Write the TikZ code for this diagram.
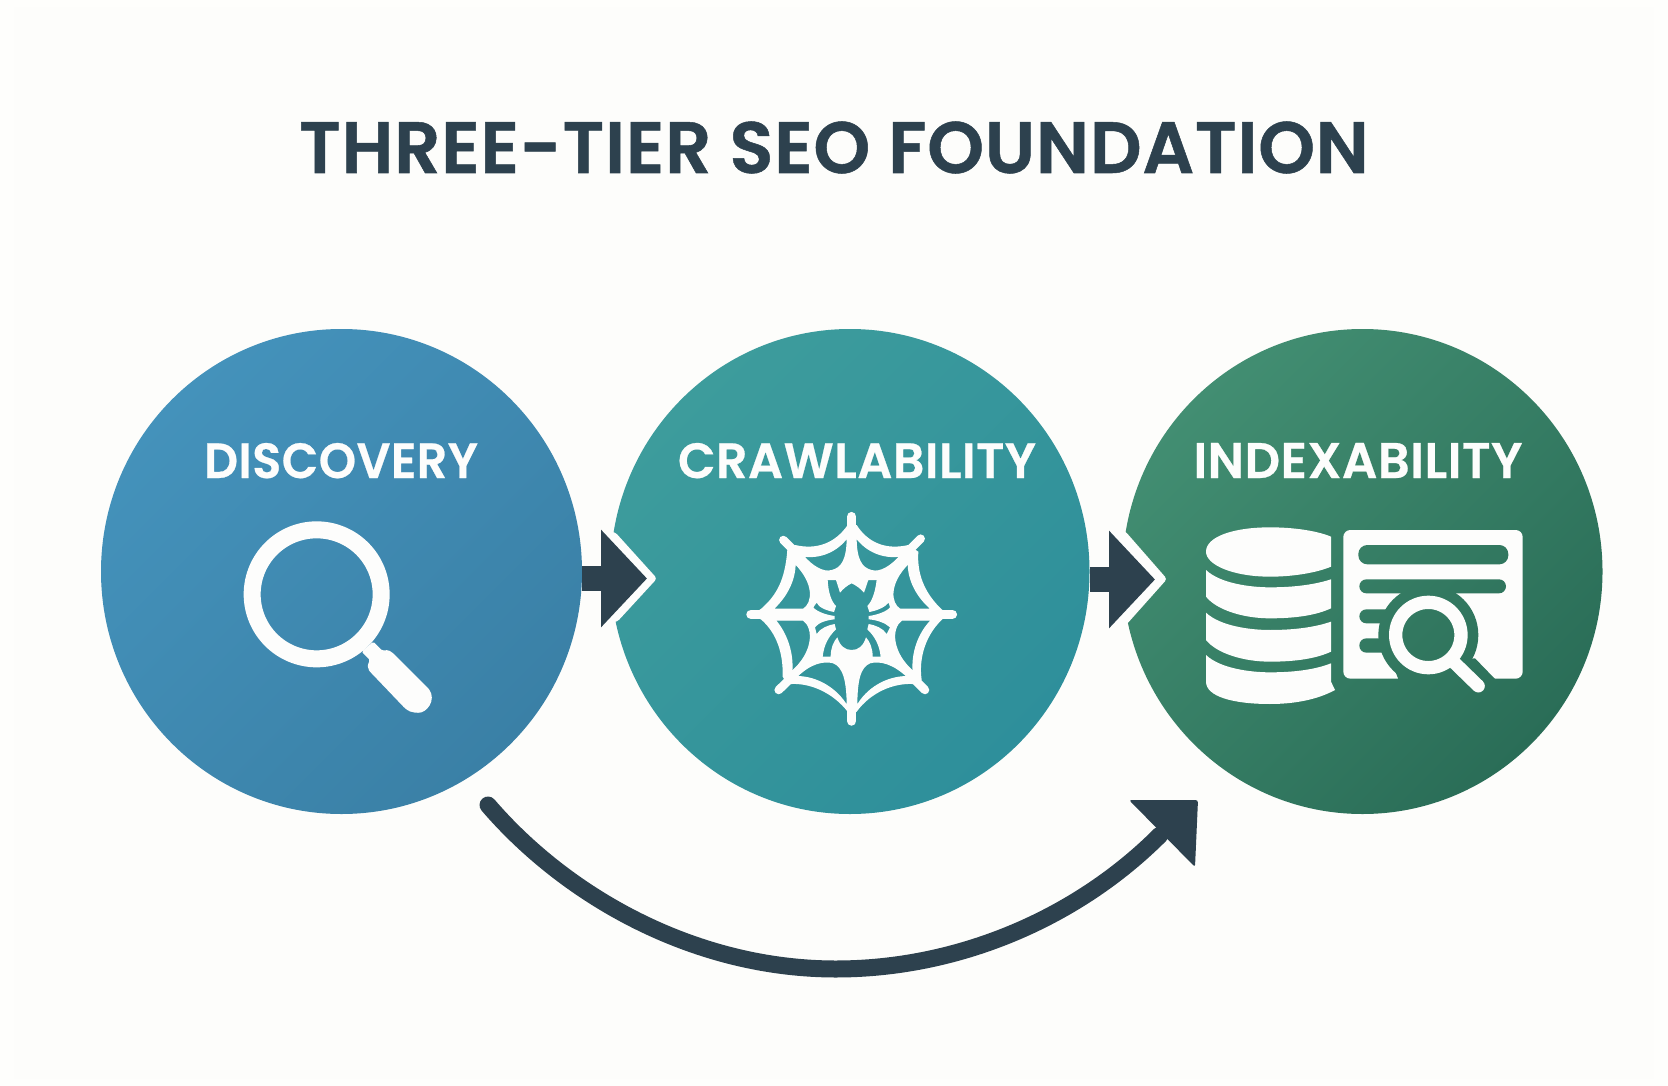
\documentclass[tikz,border=0pt]{standalone}
\usepackage{fontspec}
\usetikzlibrary{arrows.meta,calc,shapes.geometric}
\newfontfamily\ttlfont[LetterSpace=1,FakeBold=0.7]{Poppins SemiBold}
\newfontfamily\lblfont[LetterSpace=1,FakeBold=0.5]{Poppins SemiBold}
\definecolor{ink}{HTML}{2D414E}
\definecolor{paper}{HTML}{FDFDFB}
\definecolor{paperout}{HTML}{FEFEFC}
\definecolor{iconw}{HTML}{FDFDFC}
\definecolor{aA}{HTML}{4492BB}\definecolor{aB}{HTML}{3A80A6}
\definecolor{bA}{HTML}{3D9C9C}\definecolor{bB}{HTML}{2E8F9B}
\definecolor{cA}{HTML}{428E72}\definecolor{cB}{HTML}{2A6D57}
\tikzset{
  x=1pt,y=-1pt,
  discbase/.style={ellipse,inner sep=0pt,minimum height=485pt,text=iconw},
  disca/.style={discbase,minimum width=481pt,shade,top color=aA,bottom color=aB,shading angle=45},
  discb/.style={discbase,minimum width=479pt,shade,top color=bA,bottom color=bB,shading angle=45},
  discc/.style={discbase,minimum width=480pt,shade,top color=cA,bottom color=cB,shading angle=45},
  titletext/.style={inner sep=0pt,text=ink,anchor=base},
  labeltext/.style={inner sep=0pt,text=iconw,anchor=base},
  shaft/.style={draw=ink,line width=25.5pt,-{Triangle[length=46pt,width=95pt,fill=ink]}},
  halo/.style={fill=iconw,rounded corners=3pt},
  icon/.style={fill=iconw,draw=none},
  iconline/.style={draw=iconw,line cap=round},
  zoomfa/.style={shift={(700,480)},scale=1/3},
  zoomfb/.style={shift={(1100,500)},scale=1/3},
  zoomfc/.style={shift={(220,500)},scale=1/3},
}
\newcommand\holeThree[1]{\begin{scope}\clip #1;\begin{scope}[reset cm]
  \shade[top color=cA,bottom color=cB,shading angle=45] (1362.5,571.5) ellipse [x radius=240,y radius=242.5];\end{scope}\end{scope}}
\newcommand\webholes{
  (442,172) .. controls (410,215) and (360,235) .. (310,228) .. controls (335,258) and (370,280) .. (395,272) .. controls (425,265) and (442,240) .. (442,172) -- cycle
  (468,172) .. controls (500,215) and (550,235) .. (600,228) .. controls (575,258) and (540,280) .. (515,272) .. controls (485,265) and (468,240) .. (468,172) -- cycle
  (285,250) .. controls (285,300) and (260,350) .. (218,388) -- (310,388) .. controls (340,370) and (345,310) .. (285,250) -- cycle
  (625,250) .. controls (625,300) and (650,350) .. (695,388) -- (600,388) .. controls (570,370) and (565,310) .. (625,250) -- cycle
  (225,420) -- (310,420) .. controls (345,445) and (340,520) .. (275,575) .. controls (280,520) and (260,460) .. (225,420) -- cycle
  (695,420) -- (605,420) .. controls (570,445) and (575,520) .. (640,575) .. controls (635,520) and (655,460) .. (695,420) -- cycle
  (290,590) .. controls (330,550) and (370,540) .. (400,548) .. controls (430,560) and (442,600) .. (442,680) .. controls (410,625) and (350,590) .. (290,590) -- cycle
  (622,590) .. controls (580,550) and (540,540) .. (510,548) .. controls (480,560) and (470,600) .. (470,680) .. controls (500,625) and (560,590) .. (622,590) -- cycle
}
\begin{document}
\begin{tikzpicture}
\useasboundingbox (0,0) rectangle (1668,1086);
\fill[paperout] (0,0) rectangle (1668,1086);
\fill[paper] (14,7) rectangle (1654,1079);

\node[titletext] (title) at (834,173) {\resizebox{1069pt}{51.5pt}{\ttlfont THREE-TIER SEO FOUNDATION}};

\node[disca] (c1) at (341.5,571.5) {};
\node[discb] (c2) at (850,571.5) {};
\node[discc] (c3) at (1362.5,571.5) {};

\node[labeltext] (l1) at (341,478) {\resizebox{274pt}{35pt}{\lblfont DISCOVERY}};
\node[labeltext] (l2) at (857,478) {\resizebox{358pt}{35pt}{\lblfont CRAWLABILITY}};
\node[labeltext] (l3) at (1358,478) {\resizebox{329pt}{35pt}{\lblfont INDEXABILITY}};

% straight arrows
\fill[halo] (600,532) -- (615,532) -- (657,578.5) -- (617,622) -- (600,622) -- cycle;
\fill[halo] (1100,531) -- (1125,531) -- (1167,579) -- (1126,625) -- (1100,625) -- cycle;
\coordinate (a1s) at (c1.east |- 0,578.5);
\coordinate (a1t) at (647,578.5);
\coordinate (a2s) at (c2.east |- 0,579.5);
\coordinate (a2t) at (1155,579.5);
\draw[shaft] (a1s) -- (a1t);
\draw[shaft] (a2s) -- (a2t);

% curved arrow
\coordinate (cs) at (488,805);
\coordinate (cm) at (836,969);
\coordinate (ce) at (1160,835);
\draw[ink,line width=17pt,line cap=round] (cs) .. controls (567,897) and (695,969) .. (cm) .. controls (956,969) and (1075,920) .. (ce);
\fill[ink,rounded corners=2.5pt] (1129,800) -- (1198,800) -- (1195,867) -- cycle;

% magnifier
\begin{scope}[zoomfc]
\draw[iconw,line width=17pt] (290,283) circle (193.5);
\fill[icon,rounded corners=1.5pt] (425,455) -- (460,425) -- (487,452) -- (505,450) -- (520,460)
  -- (625,565) .. controls (650,600) and (620,640) .. (590,638)
  .. controls (575,638) and (565,632) .. (555,625) -- (450,515) .. controls (442,505) and (442,495) .. (450,480) -- cycle;
\end{scope}

% web
\begin{scope}[zoomfa]
\draw[iconline,line width=9.5pt] (455,110) -- (455,160);
\draw[iconline,line width=9.5pt] (455,723) -- (455,670);
\draw[iconline,line width=9.5pt] (153,403) -- (200,403);
\draw[iconline,line width=9.5pt] (757,403) -- (710,403);
\draw[iconline,line width=8.5pt] (250,180) -- (285,215);
\draw[iconline,line width=8.5pt] (662,176) -- (630,208);
\draw[iconline,line width=8.5pt] (236,630) -- (270,597);
\draw[iconline,line width=8.5pt] (675,630) -- (640,595);
\fill[icon,even odd rule]
  (443,135) .. controls (405,190) and (350,210) .. (285,195) -- (262,210)
  .. controls (255,300) and (230,345) .. (185,385) -- (160,403) -- (185,420)
  .. controls (230,460) and (250,520) .. (248,590) -- (262,613)
  .. controls (330,605) and (400,640) .. (443,695) -- (455,705) -- (470,695)
  .. controls (510,640) and (580,605) .. (650,613) -- (665,600)
  .. controls (655,530) and (680,460) .. (730,415) -- (745,403) -- (725,388)
  .. controls (680,345) and (650,290) .. (655,215) -- (625,195)
  .. controls (560,210) and (505,190) .. (470,135) -- cycle
  \webholes
  % spider
  (455,310) .. controls (442,316) and (430,326) .. (420,338) -- (408,300) -- (383,300) .. controls (385,340) and (395,365) .. (408,378)
  -- (402,396) .. controls (380,392) and (355,382) .. (350,368) -- (340,382) .. controls (350,395) and (380,405) .. (404,408)
  -- (404,418) .. controls (380,420) and (355,428) .. (345,442) -- (350,462) .. controls (360,445) and (385,435) .. (404,432)
  -- (408,448) .. controls (385,470) and (372,495) .. (368,530) -- (392,530) .. controls (392,505) and (400,485) .. (412,472)
  .. controls (420,498) and (435,510) .. (455,510) .. controls (475,510) and (490,498) .. (498,472)
  .. controls (510,485) and (518,505) .. (518,530) -- (542,530) .. controls (538,495) and (525,470) .. (502,448)
  -- (506,432) .. controls (525,435) and (550,445) .. (560,462) -- (570,442) .. controls (555,428) and (530,420) .. (506,418)
  -- (506,408) .. controls (530,405) and (560,395) .. (570,382) -- (566,368) .. controls (555,382) and (530,392) .. (508,396)
  -- (502,378) .. controls (515,365) and (525,340) .. (530,300) -- (505,300) -- (492,338) .. controls (482,326) and (468,316) .. (455,310) -- cycle;
\draw[iconw,line width=1.3pt] \webholes;
\end{scope}

% database and document
\begin{scope}[zoomfb]
\fill[icon] (693,110) .. controls (650,92) and (580,82) .. (510,82) .. controls (400,82) and (318,110) .. (318,155)
  .. controls (318,195) and (400,230) .. (510,230) .. controls (580,230) and (650,218) .. (693,200) -- cycle;
\fill[icon] (318,210) .. controls (360,250) and (450,262) .. (510,262) .. controls (590,262) and (650,252) .. (693,238)
  -- (693,325) .. controls (650,345) and (590,355) .. (510,355) .. controls (430,355) and (350,330) .. (318,290) -- cycle;
\fill[icon] (318,338) .. controls (360,378) and (450,390) .. (510,390) .. controls (590,390) and (650,380) .. (693,365)
  -- (693,455) .. controls (650,475) and (590,485) .. (510,485) .. controls (430,485) and (350,460) .. (318,420) -- cycle;
\fill[icon] (318,465) .. controls (360,505) and (450,517) .. (510,517) .. controls (590,517) and (650,507) .. (693,490)
  -- (693,545) -- (705,570) .. controls (650,600) and (580,612) .. (510,612) .. controls (400,612) and (318,590) .. (318,545) -- cycle;
\fill[icon,rounded corners=7pt] (730,90) rectangle (1268,536);
\holeThree{[rounded corners=9pt] (775,135) rectangle (1225,193)}
\holeThree{[rounded corners=7pt] (778,238) rectangle (1218,280)}
\holeThree{[rounded corners=7pt] (778,328) rectangle (900,370)}
\holeThree{[rounded corners=7pt] (778,415) rectangle (900,458)}
\holeThree{(985,405) circle (150)}
\holeThree{(1125,475) -- (1185,537) -- (1000,537) -- (895,537) -- (880,500) -- cycle}
\draw[iconw,line width=13.3pt] (985,405) circle (98);
\draw[iconw,line width=13pt,line cap=round] (1065,490) -- (1135,558);
\end{scope}
\end{tikzpicture}
\end{document}
